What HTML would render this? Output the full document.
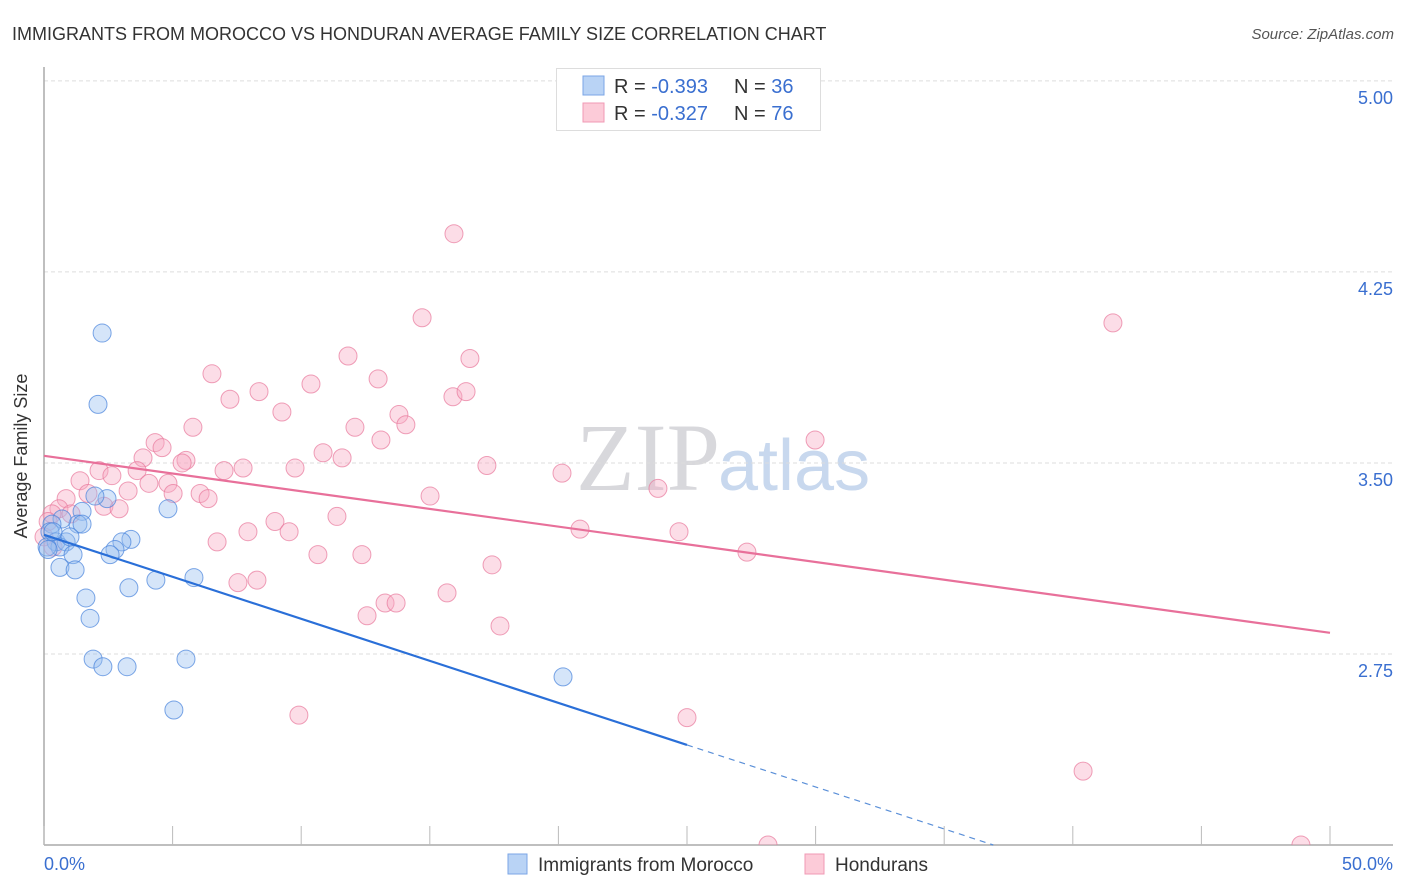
<!DOCTYPE html>
<html><head><meta charset="utf-8"><style>
body{margin:0;background:#fff;font-family:"Liberation Sans",sans-serif;}
#wrap{position:relative;width:1406px;height:892px;overflow:hidden;}
</style></head><body>
<div id="wrap">
<svg id="svg" width="1406" height="892" xmlns="http://www.w3.org/2000/svg">
<text x="12" y="40" font-size="18" fill="#333">IMMIGRANTS FROM MOROCCO VS HONDURAN AVERAGE FAMILY SIZE CORRELATION CHART</text>
<text x="1394" y="39" font-size="15" fill="#555" font-style="italic" text-anchor="end">Source: ZipAtlas.com</text>
<text x="720" y="490" font-size="96" fill="#d8d8dc" text-anchor="end" font-family="Liberation Serif,serif">ZIP</text>
<text x="718" y="490" font-size="72" fill="#c8d8ee">atlas</text>
<g id="grid"></g>
<g id="axes"></g>
<defs><clipPath id="clip"><rect x="30" y="60" width="1370" height="785"/></clipPath></defs>
<g id="pts" clip-path="url(#clip)"></g>
<g id="lines"></g>
<text x="27" y="456" font-size="18" fill="#333" text-anchor="middle" transform="rotate(-90 27 456)">Average Family Size</text>
<g>
<rect x="556.5" y="68.5" width="264" height="62" fill="#fff" stroke="#ddd"/>
<rect x="583" y="76" width="21" height="19" fill="#b9d3f5" stroke="#7ba6e6"/>
<rect x="583" y="103" width="21" height="19" fill="#fccbd8" stroke="#f09ab4"/>
<text x="614" y="93" font-size="20" fill="#333">R = <tspan fill="#3a6fd0">-0.393</tspan><tspan x="734">N = </tspan><tspan fill="#3a6fd0">36</tspan></text>
<text x="614" y="120" font-size="20" fill="#333">R = <tspan fill="#3a6fd0">-0.327</tspan><tspan x="734">N = </tspan><tspan fill="#3a6fd0">76</tspan></text>
</g>
<g>
<rect x="508" y="854" width="19" height="20" fill="#b9d3f5" stroke="#7ba6e6"/>
<text x="538" y="871" font-size="19" fill="#333">Immigrants from Morocco</text>
<rect x="805" y="854" width="19" height="20" fill="#fccbd8" stroke="#f09ab4"/>
<text x="835" y="871" font-size="19" fill="#333">Hondurans</text>
</g>
</svg>
</div>
<script>
const xTicks=[0,5,10,15,20,25,30,35,40,45,50];
const yTicks=[2.75,3.5,4.25,5.0];
const yTickLabels=["2.75","3.50","4.25","5.00"];
const blueX=[2.26,2.10,4.82,2.45,1.98,1.48,1.32,0.70,0.31,0.23,0.47,0.86,0.62,0.12,3.38,3.03,2.76,2.57,1.13,0.62,1.21,4.35,5.83,3.30,1.63,1.79,1.91,2.29,3.23,5.52,5.05,20.18,0.35,1.01,1.48,0.16];
const blueY=[4.01,3.73,3.32,3.36,3.37,3.31,3.26,3.28,3.26,3.23,3.19,3.19,3.17,3.17,3.20,3.19,3.16,3.14,3.14,3.09,3.08,3.04,3.05,3.01,2.97,2.89,2.73,2.70,2.70,2.73,2.53,2.66,3.23,3.21,3.26,3.16];
const pinkX=[15.94,41.56,14.70,11.82,16.56,6.53,12.99,10.38,15.90,16.41,8.36,7.23,9.25,13.80,14.07,12.09,5.79,13.10,29.98,4.32,4.59,10.85,11.59,3.85,5.52,5.37,17.22,9.76,7.74,7.00,20.14,2.14,3.62,2.64,4.08,1.40,4.82,3.27,5.02,23.87,0.86,6.07,6.38,15.01,1.71,2.33,2.92,0.58,1.05,0.31,11.39,8.98,20.84,9.53,24.69,7.93,6.73,27.33,10.65,12.36,17.42,8.28,7.54,15.67,13.26,13.69,12.56,17.73,9.91,25.00,40.40,28.15,48.87,0.16,0.35,0.0];
const pinkY=[4.40,4.05,4.07,3.92,3.91,3.85,3.83,3.81,3.76,3.78,3.78,3.75,3.70,3.69,3.65,3.64,3.64,3.59,3.59,3.58,3.56,3.54,3.52,3.52,3.51,3.50,3.49,3.48,3.48,3.47,3.46,3.47,3.47,3.45,3.42,3.43,3.42,3.39,3.38,3.40,3.36,3.38,3.36,3.37,3.38,3.33,3.32,3.32,3.30,3.30,3.29,3.27,3.24,3.23,3.23,3.23,3.19,3.15,3.14,3.14,3.10,3.04,3.03,2.99,2.95,2.95,2.90,2.86,2.51,2.50,2.29,2.00,2.00,3.27,3.17,3.21];
const blueTrend=[3.218,2.393];
const pinkTrend=[3.528,2.833];
const NS="http://www.w3.org/2000/svg";
function X(v){return 44+v*(1286/50);}
function Y(v){return 845-(v-2.0)*254.7;}
function mk(tag,attrs,parent){const e=document.createElementNS(NS,tag);for(const k in attrs)e.setAttribute(k,attrs[k]);parent.appendChild(e);return e;}
const grid=document.getElementById('grid'),axes=document.getElementById('axes'),pts=document.getElementById('pts'),lines=document.getElementById('lines');
yTicks.forEach((t,i)=>{
 const l=mk('line',{x1:44,x2:1393,y1:Y(t),y2:Y(t),stroke:'#ddd','stroke-dasharray':'4 3'},grid);
 
 
 const tx=mk('text',{x:1393,y:Y(t)+23,'font-size':18,fill:'#3a6fd0','text-anchor':'end'},grid);
 tx.textContent=yTickLabels[i];
 
 
});
const ya=mk('line',{x1:44,x2:44,y1:67,y2:845,stroke:'#aaa','stroke-width':1.5},axes);


const xa=mk('line',{x1:44,x2:1393,y1:845,y2:845,stroke:'#aaa','stroke-width':1.5},axes);


xTicks.forEach(t=>{
 const l=mk('line',{x1:X(t),x2:X(t),y1:826,y2:845,stroke:'#bbb'},axes);
 
 
});
const xl0=mk('text',{x:44,y:870,'font-size':18,fill:'#3a6fd0'},axes);xl0.textContent=xTicks[0].toFixed(1)+'%';


const xl1=mk('text',{x:1393,y:870,'font-size':18,fill:'#3a6fd0','text-anchor':'end'},axes);xl1.textContent=xTicks[xTicks.length-1].toFixed(1)+'%';


pinkX.forEach((v,i)=>{
 const c=mk('circle',{cx:X(v),cy:Y(pinkY[i]),r:9,fill:'rgba(248,170,195,0.4)',stroke:'rgba(232,120,155,0.7)','stroke-width':1},pts);
 
 
});
blueX.forEach((v,i)=>{
 const c=mk('circle',{cx:X(v),cy:Y(blueY[i]),r:9,fill:'rgba(150,190,240,0.4)',stroke:'rgba(70,130,220,0.7)','stroke-width':1},pts);
 
 
});
const pl=mk('line',{x1:X(0),y1:Y(pinkTrend[0]),x2:X(50),y2:Y(pinkTrend[1]),stroke:'#e8709a','stroke-width':2.2},lines);


const bs=(blueTrend[1]-blueTrend[0])/25;
const bl=mk('line',{x1:X(0),y1:Y(blueTrend[0]),x2:X(25),y2:Y(blueTrend[1]),stroke:'#2a6fd8','stroke-width':2.2},lines);


const xEnd=(2.0-blueTrend[0])/bs;
const bd=mk('line',{x1:X(25),y1:Y(blueTrend[1]),x2:X(xEnd),y2:Y(2.0),stroke:'#5a8fd8','stroke-width':1.2,'stroke-dasharray':'6 5'},lines);


</script>
</body></html>
